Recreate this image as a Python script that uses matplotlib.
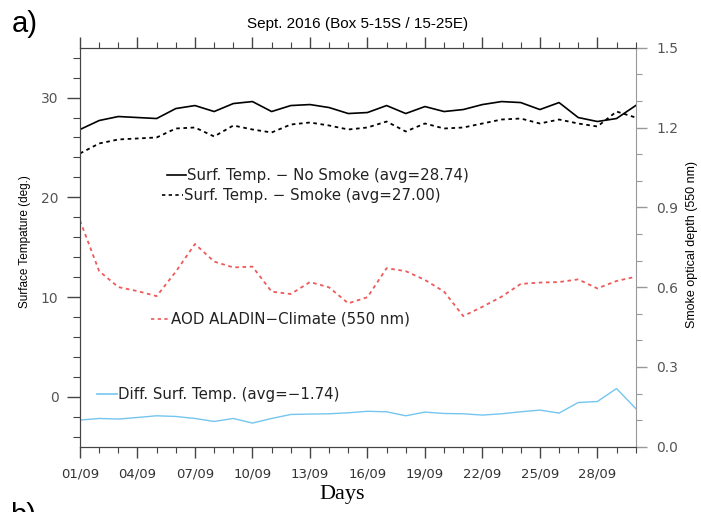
import matplotlib
matplotlib.use("Agg")
import matplotlib.pyplot as plt
from matplotlib.ticker import MultipleLocator, FixedLocator, FuncFormatter

# daily values, 1-30 Sept 2016
days = list(range(1, 31))

temp_no_smoke = [26.8, 27.7, 28.1, 28.0, 27.9, 28.9, 29.2, 28.6, 29.4, 29.6,
                 28.6, 29.2, 29.3, 29.0, 28.4, 28.5, 29.2, 28.4, 29.1, 28.6,
                 28.8, 29.3, 29.6, 29.5, 28.8, 29.5, 28.0, 27.6, 27.9, 29.2]

temp_smoke = [24.4, 25.4, 25.8, 25.9, 26.0, 26.9, 27.0, 26.1, 27.2, 26.8,
              26.5, 27.3, 27.5, 27.2, 26.8, 27.0, 27.6, 26.6, 27.4, 26.9,
              27.0, 27.4, 27.8, 27.9, 27.4, 27.8, 27.4, 27.1, 28.6, 28.0]

aod = [0.85, 0.66, 0.60, 0.585, 0.566, 0.658, 0.762, 0.696, 0.674, 0.677,
       0.583, 0.574, 0.619, 0.599, 0.539, 0.562, 0.671, 0.660, 0.627, 0.583,
       0.491, 0.526, 0.564, 0.612, 0.617, 0.619, 0.629, 0.595, 0.623, 0.639]

temp_diff = [-2.33, -2.17, -2.23, -2.07, -1.90, -1.97, -2.17, -2.47, -2.17, -2.63,
             -2.17, -1.77, -1.73, -1.70, -1.60, -1.45, -1.50, -1.90, -1.53, -1.67,
             -1.70, -1.83, -1.70, -1.50, -1.33, -1.63, -0.57, -0.47, 0.83, -1.17]

major_days = days[::3]

W, H = 701, 512
fig = plt.figure(figsize=(W / 100, H / 100), dpi=100)
ax = fig.add_axes([80 / W, 1 - 446.7 / H, 555.7 / W, 399 / H])
ax2 = ax.twinx()

ax.plot(days, temp_no_smoke, color="black", lw=1.2)
ax.plot(days, temp_smoke, color="black", lw=1.3, linestyle=(0, (2, 2)))
ax.plot(days, temp_diff, color="#74c6ef", lw=1.0)
ax2.plot(days, aod, color="#ee5a5a", lw=1.3, linestyle=(0, (2, 2)))

ax.set_xlim(1, 30)
ax.set_ylim(-5, 35)
ax2.set_ylim(0, 1.5)

# axis ticks
ax.xaxis.set_major_locator(FixedLocator(major_days))
ax.xaxis.set_minor_locator(MultipleLocator(1))
ax.xaxis.set_major_formatter(FuncFormatter(lambda v, p: "%02d/09" % int(round(v))))
ax.yaxis.set_major_locator(MultipleLocator(10))
ax.yaxis.set_minor_locator(MultipleLocator(2))
ax2.yaxis.set_major_locator(MultipleLocator(0.3))
ax2.yaxis.set_minor_locator(MultipleLocator(0.1))
ax2.yaxis.set_major_formatter(FuncFormatter(lambda v, p: "%.1f" % v))

ax.tick_params(axis="x", which="both", top=True, direction="out", colors="#444444",
               labelcolor="#333333", labelsize=9.5, pad=7)
ax.tick_params(axis="x", which="major", length=8, width=1)
ax.tick_params(axis="x", which="minor", length=4, width=0.8)
ax.tick_params(axis="y", which="both", right=False, direction="out", colors="#444444",
               labelcolor="#555555", labelsize=10, pad=6)
ax.tick_params(axis="y", which="major", length=9.5, width=1)
ax.tick_params(axis="y", which="minor", length=5, width=0.8)
ax2.tick_params(axis="y", which="both", direction="out", colors="#999999",
                labelcolor="#555555", labelsize=10, pad=7)
ax2.tick_params(axis="y", which="major", length=8, width=1)
ax2.tick_params(axis="y", which="minor", length=4, width=0.8)

for s in ["left", "top", "bottom"]:
    ax.spines[s].set_color("#444444")
    ax2.spines[s].set_color("#444444")
ax2.spines["right"].set_color("#999999")
ax.spines["right"].set_visible(False)

# in-plot legend entries
entries = [
    (0.1566, 0.1908, 0.6808, "black", "-", "Surf. Temp. \u2212 No Smoke (avg=28.74)"),
    (0.1476, 0.1854, 0.6308, "black", (0, (2, 2)), "Surf. Temp. \u2212 Smoke (avg=27.00)"),
    (0.1278, 0.1620, 0.3200, "#ee5a5a", (0, (2, 2)), "AOD ALADIN\u2212Climate (550 nm)"),
    (0.0306, 0.0666, 0.1320, "#74c6ef", "-", "Diff. Surf. Temp. (avg=\u22121.74)"),
]
for x0, x1, yy, c, ls, label in entries:
    ax.plot([x0, x1], [yy, yy], transform=ax.transAxes, color=c, ls=ls, lw=1.2)
    ax.text(x1 + 0.002, yy, label, transform=ax.transAxes, va="center", ha="left",
            fontsize=10.8, color="#222222")

fig.text(357.5 / W, 1 - 24 / H, "Sept. 2016 (Box 5-15S / 15-25E)", ha="center", va="center",
         fontsize=11, family="Liberation Sans")
fig.text(25 / W, 1 - 242 / H, "Surface Tempature (deg.)", rotation=90, ha="center", va="center",
         fontsize=8.5, family="Liberation Sans")
fig.text(692 / W, 1 - 245 / H, "Smoke optical depth (550 nm)", rotation=90, ha="center",
         va="center", fontsize=9, family="Liberation Sans")
fig.text(342 / W, 1 - 495 / H, "Days", ha="center", va="center", fontsize=16,
         family="Liberation Serif")
fig.text(12 / W, 1 - 31.7 / H, "a)", ha="left", va="baseline", fontsize=21, family="Liberation Sans")
# panel b) label is cut by the bottom edge in the original figure
fig.text(10 / W, 1 - 523.7 / H, "b)", ha="left", va="baseline", fontsize=21, family="Liberation Sans")

fig.savefig("out.png", dpi=100)
